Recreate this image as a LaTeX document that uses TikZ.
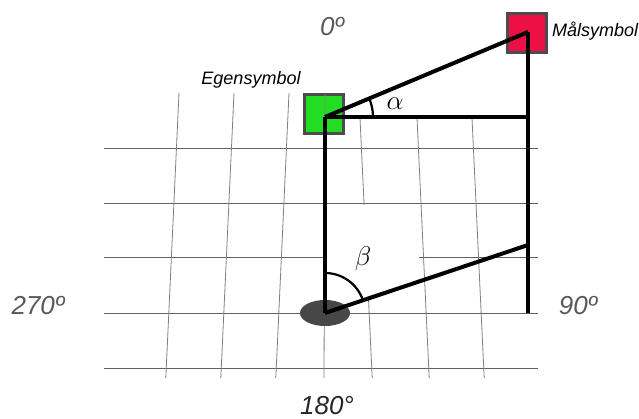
\RequirePackage{fix-cm}
\documentclass[tikz,border=0pt]{standalone}
\usepackage{fontspec}
\setmainfont{Liberation Sans}
\usetikzlibrary{shapes.geometric}
\definecolor{egreen}{RGB}{34,221,34}
\definecolor{ered}{RGB}{236,16,68}
\begin{document}
\begin{tikzpicture}[x=1pt,y=-1pt,
  gridh/.style={draw=black!62, line width=0.9pt},
  gridv/.style={draw=black!50, line width=0.8pt},
  thk/.style={line width=4pt},
  arcst/.style={line width=2.2pt},
  sym/.style={draw=black!70, line width=2.5pt, minimum size=39pt, inner sep=0pt},
  lbl/.style={font=\fontsize{18}{20}\selectfont\itshape},
  deg/.style={font=\fontsize{26}{28}\selectfont\itshape, text=black!65},
  greek/.style={font=\fontsize{27}{29}\selectfont}]
\useasboundingbox (0,0) rectangle (639,419);
% grid
\foreach \y in {148,203,257,313,368} \draw[gridh] (104,\y) -- (538,\y);
\foreach \t in {179,234,289} \draw[gridv] (\t,93) -- ({\t-13.2},378);
\foreach \t in {360,417,472} \draw[gridv] (\t,118) -- ({\t+12.2},378);
% erased patch
\fill[white] (327,205) -- (419,205) -- (419,282) -- (327,312) -- cycle;
% symbols
\node[sym, fill=egreen] (ego) at (324,114) {};
\node[sym, fill=ered] (tgt) at (527,33) {};
\draw[gridv] (325,94) -- (324,378);
\node[ellipse, fill=black!72, minimum width=50pt, minimum height=26pt, inner sep=0pt] (base) at (325,313) {};
\coordinate (v) at (325,117);
\coordinate (t) at (528,32);
\coordinate (hr) at (528,117);
\coordinate (br) at (528,313);
\coordinate (mr) at (528,245);
% thick lines
\draw[thk] (v) -- (t);
\draw[thk] (v) -- (hr);
\draw[thk] (t) -- (br);
\draw[thk] (v) -- (base.center);
\draw[thk] (base.center) -- (mr);
% angle arcs
\draw[arcst] (v) ++(48,0) arc[start angle=0, end angle=-22.7, radius=48];
\draw[arcst] (base.center) ++(0,-40) arc[start angle=-90, end angle=-18.5, radius=40];
% labels
\node[greek] (alpha) at (395,104) {$\alpha$};
\node[greek] (beta) at (363,259) {$\beta$};
\node[lbl] (egen) at (251,80) {Egensymbol};
\node[lbl, anchor=west, inner sep=0pt] (mal) at (552,31) {Målsymbol};
\node[deg] (n0) at (332,27) {0º};
\node[deg] (n270) at (38,306) {270º};
\node[deg] (n90) at (578,306) {90º};
\node[deg, text=black!85] (n180) at (327,406) {180°};
\end{tikzpicture}
\end{document}
